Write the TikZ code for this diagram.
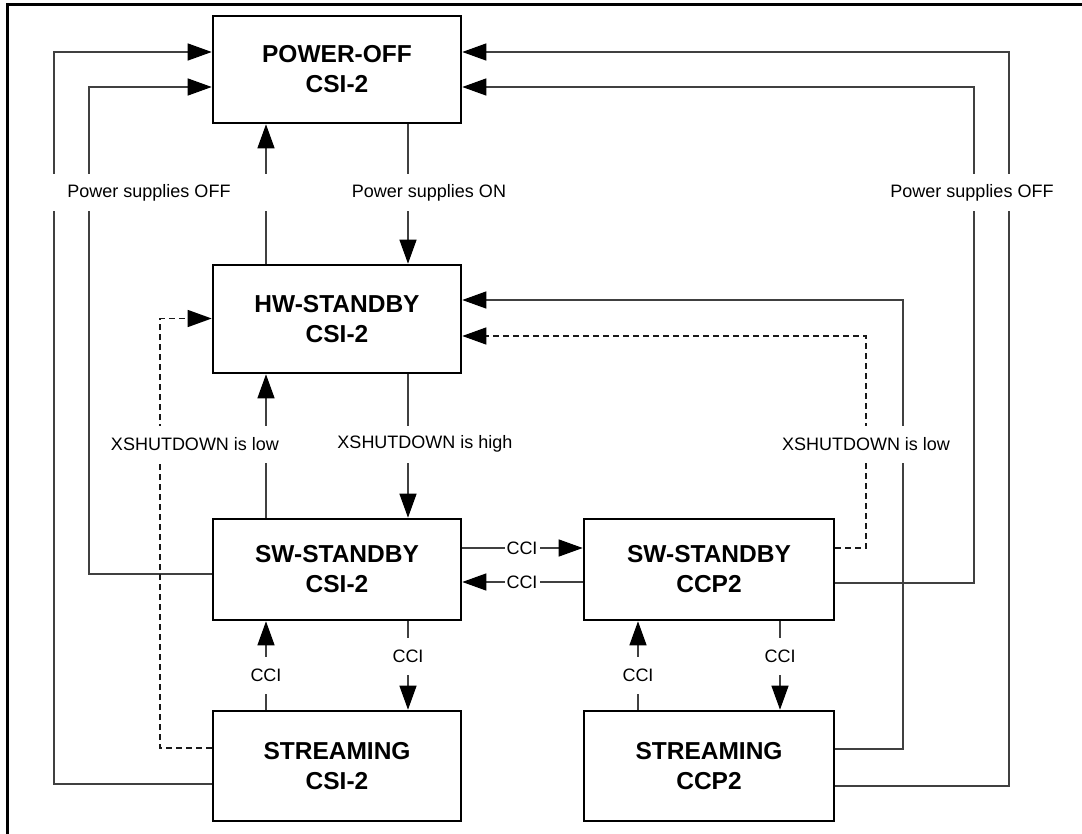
\documentclass[tikz,border=0pt]{standalone}
\usepackage{fontspec}
\setmainfont{Liberation Sans}
\usetikzlibrary{arrows.meta}
\begin{document}
\begin{tikzpicture}[x=1pt,y=-1pt,
  state/.style={draw=black, line width=2.6pt, fill=white, align=center,
    font=\fontsize{24.5}{30}\selectfont\bfseries, inner sep=0pt,
    minimum width=248pt},
  conn/.style={draw=black!75, line width=1.3pt, -{Triangle[length=24pt,width=17pt,black]}},
  dashc/.style={draw=black!90, dash pattern=on 6pt off 4pt},
  lbl/.style={fill=white, inner xsep=2pt, inner ysep=0pt, minimum height=37pt,
    font=\fontsize{18}{21}\selectfont},
]
\useasboundingbox (0,0) rectangle (1082,834);
% frame
\draw[line width=3pt] (7,834) -- (7,4.5) -- (1082,4.5);

% states
\node[state, minimum height=107pt] (PO)  at (337,69.5)  {POWER-OFF\\CSI-2};
\node[state, minimum height=108pt] (HW)  at (337,319)   {HW-STANDBY\\CSI-2};
\node[state, minimum height=101pt] (SWC) at (337,569.5) {SW-STANDBY\\CSI-2};
\node[state, minimum height=101pt, minimum width=250pt] (SWP) at (709,569.5) {SW-STANDBY\\CCP2};
\node[state, minimum height=110pt] (STC) at (337,766)   {STREAMING\\CSI-2};
\node[state, minimum height=110pt, minimum width=250pt] (STP) at (709,766)   {STREAMING\\CCP2};

% helper coordinates
\coordinate (v1) at (266,0);
\coordinate (v2) at (408,0);
\coordinate (v3) at (638,0);
\coordinate (v4) at (780,0);
\coordinate (h1) at (0,548);
\coordinate (h2) at (0,582);

\coordinate (lo1) at (54,784);   \coordinate (lo2) at (54,52);
\coordinate (li1) at (89,574);   \coordinate (li2) at (89,87);
\coordinate (ld1) at (160,748);  \coordinate (ld2) at (160,318.5);
\coordinate (rd1) at (866,548);  \coordinate (rd2) at (866,336);
\coordinate (rs1) at (903,749);  \coordinate (rs2) at (903,300);
\coordinate (ri1) at (974,583);  \coordinate (ri2) at (974,87);
\coordinate (ro1) at (1009,786); \coordinate (ro2) at (1009,52);

% left loops
\draw[conn] (STC.west |- lo1) -- (lo1) -- (lo2) -- (PO.west |- lo2);
\draw[conn] (SWC.west |- li1) -- (li1) -- (li2) -- (PO.west |- li2);
\draw[conn, dashc] (STC.west |- ld1) -- (ld1) -- (ld2) -- (HW.west |- ld2);

% right loops
\draw[conn, dashc] (SWP.east |- rd1) -- (rd1) -- (rd2) -- (HW.east |- rd2);
\draw[conn] (STP.east |- rs1) -- (rs1) -- (rs2) -- (HW.east |- rs2);
\draw[conn] (SWP.east |- ri1) -- (ri1) -- (ri2) -- (PO.east |- ri2);
\draw[conn] (STP.east |- ro1) -- (ro1) -- (ro2) -- (PO.east |- ro2);

% vertical transitions
\draw[conn] (HW.north -| v1) -- (PO.south -| v1);
\draw[conn] (PO.south -| v2) -- (HW.north -| v2);
\draw[conn] (SWC.north -| v1) -- (HW.south -| v1);
\draw[conn] (HW.south -| v2) -- (SWC.north -| v2);
\draw[conn] (STC.north -| v1) -- (SWC.south -| v1);
\draw[conn] (SWC.south -| v2) -- (STC.north -| v2);
\draw[conn] (STP.north -| v3) -- (SWP.south -| v3);
\draw[conn] (SWP.south -| v4) -- (STP.north -| v4);

% horizontal transitions
\draw[conn] (SWC.east |- h1) -- (SWP.west |- h1);
\draw[conn] (SWP.west |- h2) -- (SWC.east |- h2);

% labels
\node[lbl, minimum width=250pt] (lOFFl) at (149,193) {Power supplies OFF};
\node[lbl] (lON)   at (429,193) {Power supplies ON};
\node[lbl] (lOFFr) at (972,193) {Power supplies OFF};
\node[lbl] (lXLl)  at (195,444) {XSHUTDOWN is low};
\node[lbl] (lXH)   at (425,444) {XSHUTDOWN is high};
\node[lbl] (lXLr)  at (866,444) {XSHUTDOWN is low};
\node[lbl] (c1) at (522,548) {CCI};
\node[lbl] (c2) at (522,582) {CCI};
\node[lbl] (c3) at (266,675) {CCI};
\node[lbl] (c4) at (408,656) {CCI};
\node[lbl] (c5) at (638,675) {CCI};
\node[lbl] (c6) at (780,656) {CCI};
\end{tikzpicture}
\end{document}
